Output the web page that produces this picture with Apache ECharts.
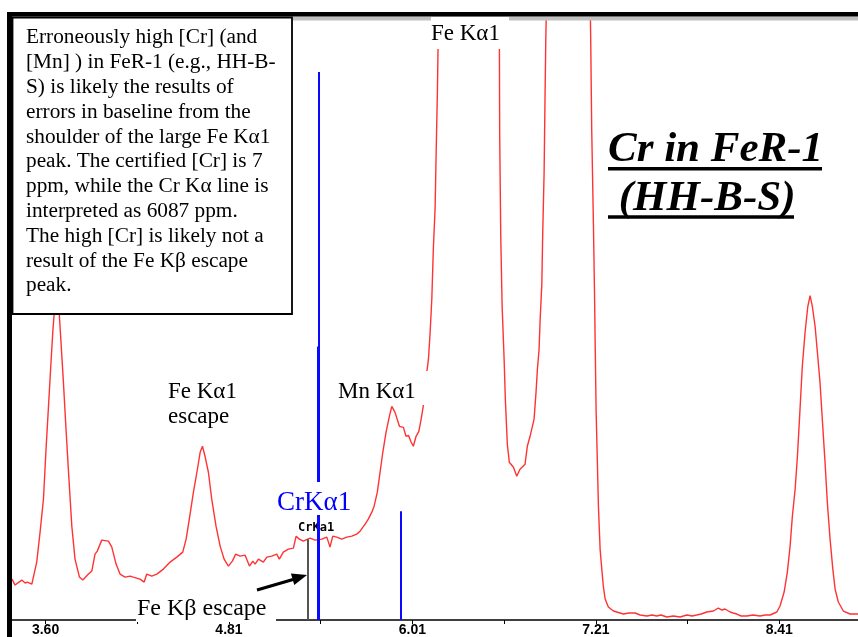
<!DOCTYPE html>
<html>
<head>
<meta charset="utf-8">
<title>Cr in FeR-1 (HH-B-S)</title>
<script src="https://cdn.jsdelivr.net/npm/echarts@6.0.0/dist/echarts.min.js"></script>
<style>
  html, body { margin: 0; padding: 0; background: #fff; }
  #chart { width: 858px; height: 637px; }
</style>
</head>
<body>
<div id="chart"></div>
<script>
// XRF spectrum of FeR-1 (HH-B-S): energy in keV, counts in arbitrary units
const energyKeV = [
  3.384, 3.404, 3.448, 3.470, 3.485, 3.514, 3.546, 3.568, 3.590, 3.607,
  3.622, 3.638, 3.651, 3.660, 3.677, 3.694, 3.704, 3.721, 3.738, 3.756,
  3.776, 3.797, 3.826, 3.848, 3.885, 3.907, 3.928, 3.943, 3.972, 4.016,
  4.038, 4.066, 4.092, 4.125, 4.158, 4.179, 4.223, 4.250, 4.267, 4.300,
  4.333, 4.376, 4.420, 4.464, 4.503, 4.525, 4.546, 4.573, 4.599, 4.617,
  4.632, 4.649, 4.671, 4.693, 4.721, 4.748, 4.774, 4.802, 4.828, 4.850,
  4.879, 4.911, 4.940, 4.962, 4.977, 4.999, 5.031, 5.054, 5.086, 5.119,
  5.136, 5.162, 5.195, 5.228, 5.246, 5.267, 5.293, 5.337, 5.370, 5.414,
  5.447, 5.468, 5.486, 5.512, 5.545, 5.578, 5.611, 5.643, 5.665, 5.698,
  5.719, 5.742, 5.757, 5.778, 5.796, 5.814, 5.835, 5.857, 5.873, 5.894,
  5.923, 5.949, 5.966, 5.982, 5.997, 6.014, 6.032, 6.050, 6.065, 6.080,
  6.091, 6.102, 6.113, 6.124, 6.135, 6.145, 6.157, 6.163, 6.172, 6.176,
  6.192, 6.287, 6.373, 6.465, 6.566,
  6.578, 6.580, 6.587, 6.596, 6.609, 6.617, 6.630, 6.643, 6.670, 6.692,
  6.713, 6.746, 6.761, 6.779, 6.805, 6.818, 6.827, 6.838, 6.845, 6.856,
  6.862, 6.871, 6.877, 6.882,
  6.897, 7.028, 7.166,
  7.177, 7.183, 7.194, 7.202, 7.205, 7.212, 7.220, 7.227, 7.238, 7.249,
  7.259, 7.271, 7.292, 7.325, 7.390, 7.428, 7.467, 7.500, 7.544, 7.579,
  7.609, 7.637, 7.675, 7.718, 7.762, 7.806, 7.841, 7.871, 7.900, 7.937,
  7.980, 8.013, 8.037, 8.057, 8.090, 8.109, 8.134, 8.162, 8.199, 8.240,
  8.286, 8.319, 8.352, 8.396, 8.417, 8.444, 8.465, 8.483, 8.498, 8.516,
  8.531, 8.548, 8.563, 8.581, 8.599, 8.614, 8.629, 8.647, 8.662, 8.679,
  8.697, 8.712, 8.727, 8.745, 8.763, 8.778, 8.799, 8.832, 8.876, 8.928
];
const counts = [
  41, 35, 40, 37, 38, 36, 58, 88, 121, 171,
  211, 254, 288, 306, 350, 306, 281, 238, 191, 144,
  94, 61, 43, 40, 46, 49, 66, 69, 80, 79,
  73, 56, 46, 43, 44, 43, 41, 38, 46, 44,
  46, 51, 58, 63, 68, 81, 101, 128, 151, 168,
  174, 164, 148, 121, 94, 74, 61, 54, 59, 66,
  64, 65, 54, 59, 56, 61, 58, 63, 64, 66,
  61, 68, 71, 72, 84, 81, 79, 82, 80, 81,
  83, 73, 84, 83, 81, 83, 84, 86, 89, 96,
  101, 108, 114, 128, 148, 168, 188, 204, 214, 208,
  194, 193, 184, 185, 179, 174, 184, 189, 201, 215,
  231, 248, 261, 288, 321, 371, 414, 464, 531, 574,
  680, 1400, 1900, 1400, 680,
  574, 484, 383, 314, 261, 221, 176, 158, 153, 144,
  151, 156, 174, 184, 201, 228, 251, 271, 301, 336,
  388, 448, 523, 581,
  700, 1100, 700,
  574, 491, 398, 321, 284, 208, 158, 114, 71, 51,
  34, 21, 13, 9, 6, 7, 7, 5, 4, 5,
  4, 5, 3, 4, 3, 5, 4, 5, 6, 8,
  9, 12, 10, 11, 8, 7, 6, 4, 4, 5,
  4, 5, 5, 8, 14, 28, 48, 74, 104, 131,
  164, 211, 254, 288, 314, 325, 314, 294, 268, 238,
  194, 158, 118, 81, 51, 31, 18, 9, 6, 6
];

// energy axis ticks
const tickValues = [3.604, 4.806, 6.008, 7.210, 8.412];
const tickLabels = ['3.60', '4.81', '6.01', '7.21', '8.41'];
const minorTickValues = [4.205, 5.407, 6.609, 7.811];

// element marker lines: Fe Kβ escape, Cr Kα1 (full and fitted), Cr Kβ
const markerEnergies = [5.324, 5.393, 5.393, 5.932];
const markerHeights = [81, 549, 274, 109];

const axisMin = 3.384, axisMax = 8.928;
const countMax = 601;

const markerStyles = [
  { color: '#555555', width: 2 },
  { color: '#0a0aff', width: 2 },
  { color: '#0a0aff', width: 3 },
  { color: '#0a0aff', width: 2 }
];

const spectrum = energyKeV.map((e, i) => [e, counts[i]]);
const markerData = markerEnergies.map((e, i) => [
  { coord: [e, 0], lineStyle: { color: markerStyles[i].color, width: markerStyles[i].width, type: 'solid' } },
  { coord: [e, markerHeights[i]] }
]);

const serif = '"Liberation Serif", "Times New Roman", serif';

function txt(x, y, text, size, opts) {
  opts = opts || {};
  return {
    type: 'text', x: x, y: y, z: opts.z != null ? opts.z : 20,
    style: {
      text: text,
      fontFamily: opts.family || serif,
      fontSize: size,
      fontWeight: opts.weight || 'normal',
      fontStyle: opts.style || 'normal',
      fill: opts.color || '#000',
      textAlign: 'left',
      textVerticalAlign: opts.va || 'middle',
      lineHeight: opts.lineHeight
    }
  };
}
function box(x, y, w, h, fill, z, stroke, lw) {
  return {
    type: 'rect', z: z,
    shape: { x: x, y: y, width: w, height: h },
    style: { fill: fill, stroke: stroke || null, lineWidth: lw || 0 }
  };
}

const noteText = [
  'Erroneously high [Cr] (and',
  '[Mn] ) in FeR-1 (e.g., HH-B-',
  'S) is likely the results of',
  'errors in baseline from the',
  'shoulder of the large Fe K\u03b11',
  'peak. The certified [Cr] is 7',
  'ppm, while the Cr K\u03b1 line is',
  'interpreted as 6087 ppm.',
  'The high [Cr] is likely not a',
  'result of the Fe K\u03b2 escape',
  'peak.'
].join('\n');

const chart = echarts.init(document.getElementById('chart'), null, { renderer: 'canvas' });
chart.setOption({
  animation: false,
  backgroundColor: '#ffffff',
  grid: { left: 12, right: 0, top: 20, bottom: 16, containLabel: false },
  xAxis: {
    type: 'value',
    min: axisMin,
    max: axisMax,
    axisLine: { show: true, lineStyle: { color: '#000', width: 1.5 } },
    axisTick: {
      show: true, length: 4, inside: false,
      customValues: tickValues.concat(minorTickValues),
      lineStyle: { color: '#000', width: 1 }
    },
    axisLabel: {
      customValues: tickValues,
      margin: 3,
      color: '#000',
      fontFamily: '"Liberation Sans", Arial, sans-serif',
      fontWeight: 'bold',
      fontSize: 14,
      formatter: function (v) {
        let best = 0;
        tickValues.forEach((t, i) => { if (Math.abs(t - v) < Math.abs(tickValues[best] - v)) best = i; });
        return tickLabels[best];
      }
    },
    splitLine: { show: false }
  },
  yAxis: {
    type: 'value', min: 0, max: countMax, show: false,
    splitLine: { show: false }
  },
  series: [{
    type: 'line',
    data: spectrum,
    showSymbol: false,
    clip: true,
    lineStyle: { color: '#ff3333', width: 1.4 },
    markLine: {
      silent: true,
      symbol: ['none', 'none'],
      label: { show: false },
      data: markerData
    }
  }],
  graphic: [
    // window frame
    box(7, 12, 851, 4.5, '#000', 30),
    box(7, 12, 5, 625, '#000', 30),
    box(12, 16.5, 846, 4, '#c0c0c0', 29),
    // note box
    box(12.5, 17.5, 279.5, 296.5, '#fff', 31, '#000', 1.8),
    txt(26, 25.4, noteText, 21.3, { va: 'top', lineHeight: 24.8, z: 32 }),
    // title
    txt(608, 149.6, 'Cr in FeR-1', 43, { weight: 'bold', style: 'italic' }),
    box(608, 167, 214, 3.6, '#000', 20),
    txt(608, 198.6, ' (HH-B-S)', 43, { weight: 'bold', style: 'italic' }),
    box(608, 215.2, 186, 3.6, '#000', 20),
    // peak labels
    box(431, 17, 78, 32, '#fff', 31),
    txt(431, 33.7, 'Fe K\u03b11', 23, { z: 32 }),
    box(336, 371, 92, 34, '#fff', 19),
    txt(338, 392, 'Mn K\u03b11', 23),
    txt(168, 392, 'Fe K\u03b11', 23),
    txt(168, 417, 'escape', 23),
    box(275, 482, 81, 33, '#fff', 19),
    txt(277, 502.8, 'CrK\u03b11', 27, { color: '#0000ff' }),
    txt(298, 528, 'CrKa1', 12, { family: '"DejaVu Sans Mono", monospace', weight: 'bold', z: 1 }),
    box(136, 596, 140, 26, '#fff', 19),
    txt(137, 608.7, 'Fe K\u03b2 escape', 24),
    // arrow to the Fe Kβ escape line
    { type: 'line', z: 20, shape: { x1: 257, y1: 590, x2: 293, y2: 579.5 }, style: { stroke: '#000', lineWidth: 3 } },
    { type: 'polygon', z: 20, shape: { points: [[307, 575], [294.3, 585.1], [290.9, 573.5]] }, style: { fill: '#000' } }
  ]
});
</script>
</body>
</html>
